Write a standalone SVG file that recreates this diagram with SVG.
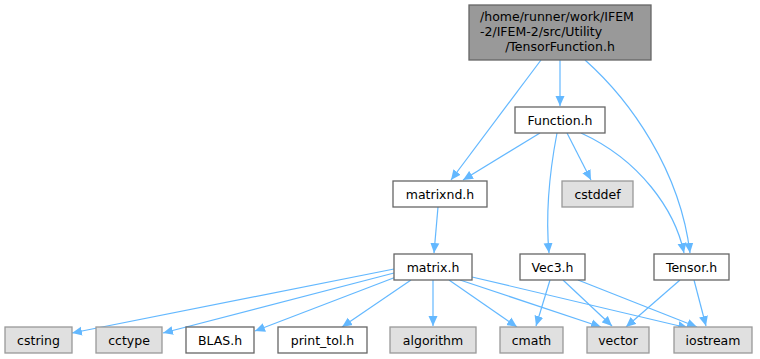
<svg xmlns="http://www.w3.org/2000/svg" width="760" height="359" viewBox="0 0 760 359">
<defs>
<marker id="ah" viewBox="0 0 10 10" refX="10" refY="5" markerWidth="10" markerHeight="10" markerUnits="userSpaceOnUse" orient="auto">
<path d="M0,0.5 L10,5 L0,9.5 Z" fill="#63b8ff"/>
</marker>
<style>
.e{fill:none;stroke:#63b8ff;stroke-width:1.2;marker-end:url(#ah)}
.n rect{fill:#ffffff;stroke:#666666;stroke-width:1.3}
.g rect{fill:#e0e0e0;stroke:#999999;stroke-width:1.3}
.r rect{fill:#999999;stroke:#666666;stroke-width:1.3}
text{font-family:"DejaVu Sans",sans-serif;font-size:12.5px;fill:#000000}
.c{text-anchor:middle}
</style>
</defs>
<rect width="760" height="359" fill="#ffffff"/>
<g id="edges">
<path class="e" d="M541,60 L451,180"/>
<path class="e" d="M560,60 L560,106"/>
<path class="e" d="M585,60 C630,100 680,170 690,253"/>
<path class="e" d="M540,133 L463,180"/>
<path class="e" d="M567,133 L591,180"/>
<path class="e" d="M557,133 C548,180 546,220 549,253"/>
<path class="e" d="M581,133 C640,160 675,210 684,253"/>
<path class="e" d="M438,207 L434,253"/>
<path class="e" d="M394,269 L72,333"/>
<path class="e" d="M394,273 L163,333"/>
<path class="e" d="M396,277 L255,331"/>
<path class="e" d="M411,280 L342,327"/>
<path class="e" d="M433,280 L433,326"/>
<path class="e" d="M449,280 L517,327"/>
<path class="e" d="M460,280 L601,327"/>
<path class="e" d="M472,277 L688,328"/>
<path class="e" d="M550,280 L536,326"/>
<path class="e" d="M563,280 L612,326"/>
<path class="e" d="M578,280 L697,327"/>
<path class="e" d="M680,280 L626,327"/>
<path class="e" d="M694,280 L706,326"/>
</g>
<g id="root" class="r"><rect x="469" y="5" width="182" height="55"/>
<text x="480" y="21">/home/runner/work/IFEM</text>
<text x="480" y="36">-2/IFEM-2/src/Utility</text>
<text class="c" x="560" y="51">/TensorFunction.h</text></g>
<g id="function" class="n"><rect x="515" y="107" width="90" height="26"/><text class="c" x="560" y="124.5">Function.h</text></g>
<g id="matrixnd" class="n"><rect x="393" y="181" width="94" height="26"/><text class="c" x="440" y="198.5">matrixnd.h</text></g>
<g id="cstddef" class="g"><rect x="562" y="181" width="71" height="26"/><text class="c" x="597.5" y="198.5">cstddef</text></g>
<g id="matrix" class="n"><rect x="394" y="254" width="78" height="26"/><text class="c" x="433" y="271.5">matrix.h</text></g>
<g id="vec3" class="n"><rect x="520" y="254" width="65" height="26"/><text class="c" x="552.5" y="271.5">Vec3.h</text></g>
<g id="tensor" class="n"><rect x="654" y="254" width="75" height="26"/><text class="c" x="691.5" y="271.5">Tensor.h</text></g>
<g id="cstring" class="g"><rect x="5" y="327" width="67" height="26"/><text class="c" x="38.5" y="344.5">cstring</text></g>
<g id="cctype" class="g"><rect x="96" y="327" width="66" height="26"/><text class="c" x="129" y="344.5">cctype</text></g>
<g id="blas" class="n"><rect x="186" y="327" width="68" height="26"/><text class="c" x="220" y="344.5">BLAS.h</text></g>
<g id="printtol" class="n"><rect x="278" y="327" width="89" height="26"/><text class="c" x="322.5" y="344.5">print_tol.h</text></g>
<g id="algorithm" class="g"><rect x="390" y="327" width="86" height="26"/><text class="c" x="433" y="344.5">algorithm</text></g>
<g id="cmath" class="g"><rect x="500" y="327" width="63" height="26"/><text class="c" x="531.5" y="344.5">cmath</text></g>
<g id="vector" class="g"><rect x="587" y="327" width="62" height="26"/><text class="c" x="618" y="344.5">vector</text></g>
<g id="iostream" class="g"><rect x="674" y="327" width="78" height="26"/><text class="c" x="713" y="344.5">iostream</text></g>
</svg>
